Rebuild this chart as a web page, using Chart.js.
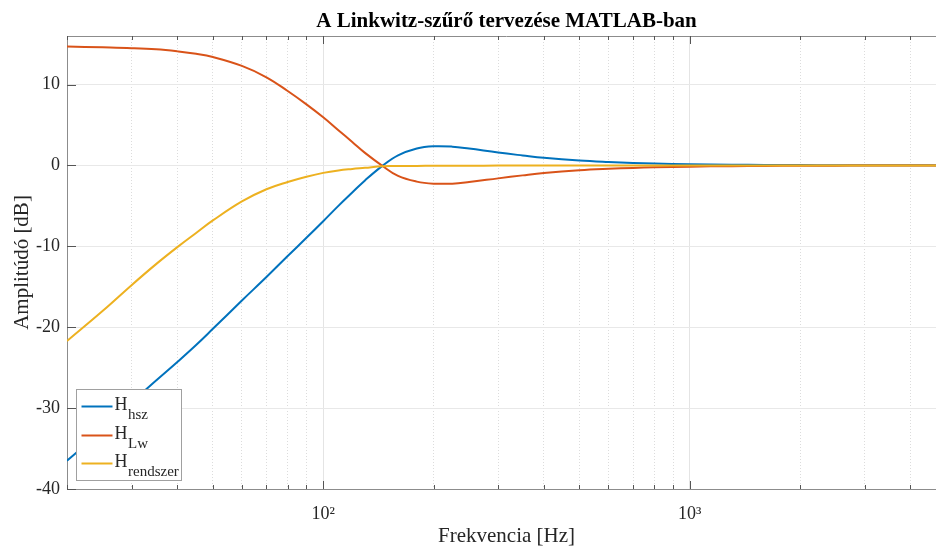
<!DOCTYPE html>
<html>
<head>
<meta charset="utf-8">
<script src="https://cdn.jsdelivr.net/npm/chart.js@4.4.0/dist/chart.umd.min.js"></script>
<style>
    html, body { margin: 0; padding: 0; background: #fff; overflow: hidden; }
    #crop { width: 936px; height: 549px; overflow: hidden; }
    #wrap { width: 946px; height: 549px; }
</style>
</head>
<body>
<div id="crop"><div id="wrap"><canvas id="myChart"></canvas></div></div>
<script>
// frequencies [Hz] and magnitudes [dB]
var freqs = [20, 25, 30, 35, 40, 45, 50, 60, 70, 80, 90, 100, 110, 120, 130, 145, 160, 180, 200, 225, 250,
    300, 350, 400, 500, 600, 700, 800, 1000, 1300, 1600, 2000, 2500, 3000, 4000, 5000];
var hsz = [-36.5, -32.7, -29.3, -26.6, -24.3, -22.2, -20.2, -16.7, -13.8, -11.2, -8.95, -6.9, -5.0, -3.35, -1.85, -0.05,
    1.25, 2.1, 2.37, 2.32, 2.08, 1.59, 1.23, 0.94, 0.6, 0.42, 0.31, 0.24, 0.15, 0.09, 0.06, 0.04, 0.025, 0.017, 0.01, 0.006];
var lw = [14.7, 14.6, 14.5, 14.35, 14.1, 13.8, 13.4, 12.3, 10.9, 9.2, 7.55, 5.95, 4.35, 2.9, 1.55, -0.05,
    -1.3, -2.0, -2.25, -2.25, -2.05, -1.6, -1.23, -0.94, -0.6, -0.42, -0.31, -0.24, -0.15, -0.09, -0.06, -0.04, -0.025, -0.017, -0.01, -0.006];
var rendszer = [-21.7, -18.0, -14.8, -12.2, -10.1, -8.35, -6.8, -4.45, -2.95, -2.05, -1.4, -0.92, -0.62, -0.44, -0.3, -0.1,
    -0.08, -0.06, -0.05, -0.04, -0.03, -0.02, -0.015, -0.01, -0.005, 0, 0, 0, 0, 0, 0, 0, 0, 0, 0, 0];

var yTicks = [-40, -30, -20, -10, 0, 10];
var xTicks = [20, 30, 40, 50, 60, 70, 80, 90, 100, 200, 300, 400, 500, 600, 700, 800, 900, 1000, 2000, 3000, 4000];
var xTickLabels = { 100: '10²', 1000: '10³' };
var seriesNames = [['H', 'hsz'], ['H', 'Lw'], ['H', 'rendszer']];
var seriesColors = ['#0072BD', '#D95319', '#EDB120'];

var titleText = 'A Linkwitz-szűrő tervezése MATLAB-ban';
var serif = 'Liberation Serif, Times New Roman, serif';

function isMajor(v) {
    return v === 100 || v === 1000;
}

function toPoints(ys) {
    return freqs.map(function (f, i) {
        return { x: f, y: ys[i] };
    });
}

// title over the axes, inward tick marks, top box edge and the legend with subscripts
var matlabLook = {
    id: 'matlabLook',
    beforeDatasetsDraw: function (chart) {
        var ctx = chart.ctx;
        var area = chart.chartArea;
        var xs = chart.scales.x;
        var ys = chart.scales.y;
        ctx.save();
        ctx.strokeStyle = '#8c8c8c';
        ctx.lineWidth = 1;
        ctx.beginPath();
        ctx.moveTo(area.left, area.top + 0.5);
        ctx.lineTo(area.right, area.top + 0.5);
        ctx.stroke();

        ctx.strokeStyle = '#555';
        ctx.beginPath();
        xTicks.forEach(function (v) {
            var px = Math.round(xs.getPixelForValue(v)) + 0.5;
            var len = isMajor(v) ? 8 : 4;
            ctx.moveTo(px, area.bottom);
            ctx.lineTo(px, area.bottom - len);
            ctx.moveTo(px, area.top);
            ctx.lineTo(px, area.top + len);
        });
        yTicks.forEach(function (v) {
            var py = Math.round(ys.getPixelForValue(v)) + 0.5;
            ctx.moveTo(area.left, py);
            ctx.lineTo(area.left + 9, py);
        });
        ctx.stroke();
        ctx.restore();
    },
    afterDraw: function (chart) {
        var ctx = chart.ctx;
        var area = chart.chartArea;
        ctx.save();

        // title
        ctx.fillStyle = '#000';
        ctx.font = 'bold 21px ' + serif;
        ctx.textAlign = 'center';
        ctx.textBaseline = 'alphabetic';
        ctx.fillText(titleText, (area.left + area.right) / 2, 27);

        // legend
        var bx = area.left + 9.5;
        var by = area.bottom - 99.5;
        var bw = 105;
        var bh = 91;
        ctx.fillStyle = '#fff';
        ctx.fillRect(bx, by, bw, bh);
        ctx.strokeStyle = '#a0a0a0';
        ctx.lineWidth = 1;
        ctx.strokeRect(bx, by, bw, bh);

        var rowY = [17, 46, 74];
        ctx.textAlign = 'left';
        seriesNames.forEach(function (name, i) {
            var y = by + rowY[i];
            ctx.strokeStyle = seriesColors[i];
            ctx.lineWidth = 2;
            ctx.beginPath();
            ctx.moveTo(bx + 5, y);
            ctx.lineTo(bx + 36, y);
            ctx.stroke();
            ctx.fillStyle = '#262626';
            ctx.font = '18px ' + serif;
            ctx.fillText(name[0], bx + 38, y + 3.5);
            var w = ctx.measureText(name[0]).width;
            ctx.font = '15px ' + serif;
            ctx.fillText(name[1], bx + 38 + w + 0.5, y + 12);
        });
        ctx.restore();
    }
};

var ctx = document.getElementById('myChart').getContext('2d');
var config = {
    type: 'scatter',
    data: {
        datasets: [
            { label: 'Hhsz', data: toPoints(hsz), borderColor: seriesColors[0], order: 2 },
            { label: 'HLw', data: toPoints(lw), borderColor: seriesColors[1], order: 1 },
            { label: 'Hrendszer', data: toPoints(rendszer), borderColor: seriesColors[2], order: 0 }
        ]
    },
    options: {
        responsive: true,
        maintainAspectRatio: false,
        animation: false,
        layout: { padding: { top: 36, left: 0, right: 0, bottom: 0 } },
        elements: {
            line: { borderWidth: 2, fill: false, tension: 0.4 },
            point: { radius: 0, hoverRadius: 0 }
        },
        datasets: { scatter: { showLine: true } },
        plugins: {
            legend: { display: false },
            tooltip: { enabled: false },
            title: { display: false }
        },
        scales: {
            x: {
                type: 'logarithmic',
                min: 20,
                max: 5000,
                afterBuildTicks: function (scale) {
                    scale.ticks = xTicks.map(function (v) { return { value: v, major: isMajor(v) }; });
                },
                afterFit: function (scale) { scale.height = 60; },
                ticks: {
                    autoSkip: false,
                    maxRotation: 0,
                    padding: 14,
                    color: '#262626',
                    font: { family: serif, size: 18 },
                    callback: function (v) { return xTickLabels[v] || ''; }
                },
                grid: {
                    drawTicks: false,
                    color: function (c) {
                        return c.tick && isMajor(c.tick.value) ? '#e4e4e4' : '#dcdcdc';
                    },
                    lineWidth: 1
                },
                border: {
                    display: true,
                    color: '#8c8c8c',
                    width: 1,
                    dash: function (c) {
                        return c.tick && !isMajor(c.tick.value) ? [1, 2] : [];
                    }
                },
                title: {
                    display: true,
                    text: 'Frekvencia [Hz]',
                    color: '#262626',
                    font: { family: serif, size: 21 },
                    padding: { top: 0, bottom: 0 }
                }
            },
            y: {
                min: -40,
                max: 16,
                afterBuildTicks: function (scale) {
                    scale.ticks = yTicks.map(function (v) { return { value: v }; });
                },
                afterFit: function (scale) { scale.width = 67; },
                ticks: {
                    padding: 7,
                    color: '#262626',
                    font: { family: serif, size: 18 }
                },
                grid: {
                    drawTicks: false,
                    color: '#e8e8e8',
                    lineWidth: 1
                },
                border: { display: true, color: '#8c8c8c', width: 1 },
                title: {
                    display: true,
                    text: 'Amplitúdó [dB]',
                    color: '#262626',
                    font: { family: serif, size: 21 },
                    padding: { top: 10, bottom: 0 }
                }
            }
        }
    },
    plugins: [matlabLook]
};

var myChart = new Chart(ctx, config);
</script>
</body>
</html>
